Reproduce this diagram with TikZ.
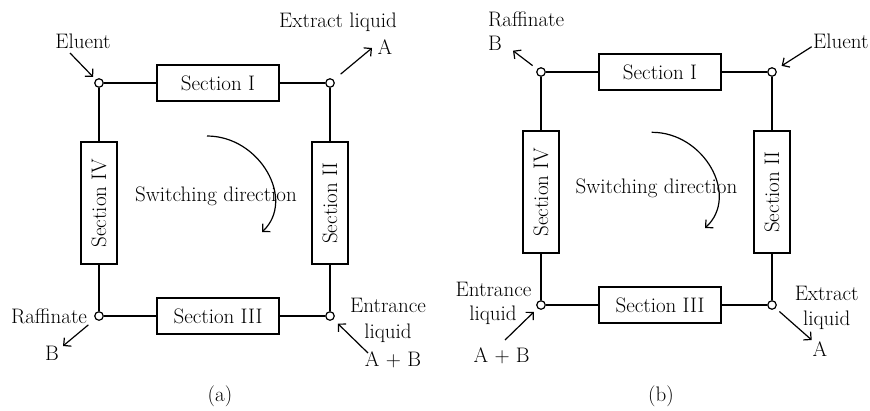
\documentclass[tikz,border=0pt]{standalone}
\usepackage{fontspec}
\usetikzlibrary{arrows.meta}
\newcommand\lblfont{\fontsize{21}{24}\selectfont}
\tikzset{
  sect/.style={draw, line width=1.3pt, minimum width=122pt, minimum height=36pt, inner sep=0pt, font=\lblfont},
  junc/.style={circle, draw, fill=white, line width=1.2pt, minimum size=8.5pt, inner sep=0pt},
  wire/.style={line width=1.3pt},
  arr/.style={line width=1.2pt, -{Straight Barb[length=5.5pt,width=11pt]}},
  lbl/.style={font=\lblfont, inner sep=0pt},
}
\begin{document}
\begin{tikzpicture}[x=1pt,y=-1pt]
\useasboundingbox (0,0) rectangle (870,410);
% ---------- panel (a) ----------
\node[junc] (a1) at (99,83) {};
\node[junc] (a2) at (330,83) {};
\node[junc] (a3) at (330,316) {};
\node[junc] (a4) at (99,316) {};
\node[sect] (aS1) at (218,83) {Section I};
\node[sect, rotate=90] (aS2) at (330,203) {Section II};
\node[sect] (aS3) at (218,316) {Section III};
\node[sect, rotate=90] (aS4) at (99,203) {Section IV};
\draw[wire] (a1) -- (aS1) (aS1) -- (a2) (a2) -- (aS2) (aS2) -- (a3)
            (a3) -- (aS3) (aS3) -- (a4) (a4) -- (aS4) (aS4) -- (a1);
\node[lbl, anchor=base] (aEl) at (83,48.3) {Eluent};
\coordinate (aElT) at (70,53);
\draw[arr, shorten >=3.5pt] (aElT) -- (a1);
\node[lbl, anchor=base] (aEx) at (338,27.3) {Extract liquid};
\node[lbl, anchor=base] (aExA) at (385,54.3) {A};
\coordinate (aExH) at (372,48);
\draw[arr, shorten <=9pt] (a2) -- (aExH);
\node[lbl, anchor=base] (aRa) at (49,323.3) {Raffinate};
\node[lbl, anchor=base] (aRaB) at (52,360) {B};
\coordinate (aRaH) at (63,346);
\draw[arr, shorten <=9pt] (a4) -- (aRaH);
\node[lbl, anchor=base] (aEn1) at (388,312.3) {Entrance};
\node[lbl, anchor=base] (aEn2) at (388,338.3) {liquid};
\node[lbl, anchor=base] (aAB) at (393,366.7) {A + B};
\coordinate (aEnT) at (368,353);
\draw[arr, shorten >=6pt] (aEnT) -- (a3);
\node[lbl, anchor=base] (aSw) at (216,201.7) {Switching direction};
\coordinate (aArcS) at (207,136);
\coordinate (aArcE) at (262,232);
\draw[arr] (aArcS) .. controls (260,136) and (296,200) .. (aArcE);
\node[lbl, anchor=base] (aCap) at (220,401.7) {(a)};
% ---------- panel (b) ----------
\node[junc] (b1) at (541,72) {};
\node[junc] (b2) at (772,72) {};
\node[junc] (b3) at (772,305) {};
\node[junc] (b4) at (541,305) {};
\node[sect] (bS1) at (660,72) {Section I};
\node[sect, rotate=90] (bS2) at (772,192) {Section II};
\node[sect] (bS3) at (660,305) {Section III};
\node[sect, rotate=90] (bS4) at (541,192) {Section IV};
\draw[wire] (b1) -- (bS1) (bS1) -- (b2) (b2) -- (bS2) (bS2) -- (b3)
            (b3) -- (bS3) (bS3) -- (b4) (b4) -- (bS4) (bS4) -- (b1);
\node[lbl, anchor=base west] (bRa) at (488,26.7) {Raffinate};
\node[lbl, anchor=base west] (bRaB) at (488,50.7) {B};
\coordinate (bRaH) at (513,50.7);
\draw[arr, shorten <=5.7pt] (b1) -- (bRaH);
\node[lbl, anchor=base west] (bEl) at (813,48.3) {Eluent};
\coordinate (bElT) at (811.7,46.7);
\draw[arr, shorten >=6.6pt] (bElT) -- (b2);
\node[lbl, anchor=base] (bEn1) at (493.5,296) {Entrance};
\node[lbl, anchor=base] (bEn2) at (493,320) {liquid};
\node[lbl, anchor=base] (bAB) at (501.7,362.7) {A + B};
\coordinate (bEnT) at (505,340);
\draw[arr, shorten >=5pt] (bEnT) -- (b4);
\node[lbl, anchor=base] (bEx1) at (826.7,300) {Extract};
\node[lbl, anchor=base] (bEx2) at (826.7,325) {liquid};
\node[lbl, anchor=base] (bExA) at (820,356.7) {A};
\coordinate (bExH) at (811.7,340);
\draw[arr, shorten <=5pt] (b3) -- (bExH);
\node[lbl, anchor=base] (bSw) at (656.5,193.3) {Switching direction};
\coordinate (bArcS) at (651.7,132.3);
\coordinate (bArcE) at (705,228);
\draw[arr] (bArcS) .. controls (704,132) and (740,196) .. (bArcE);
\node[lbl, anchor=base] (bCap) at (661,401.7) {(b)};
\end{tikzpicture}
\end{document}
